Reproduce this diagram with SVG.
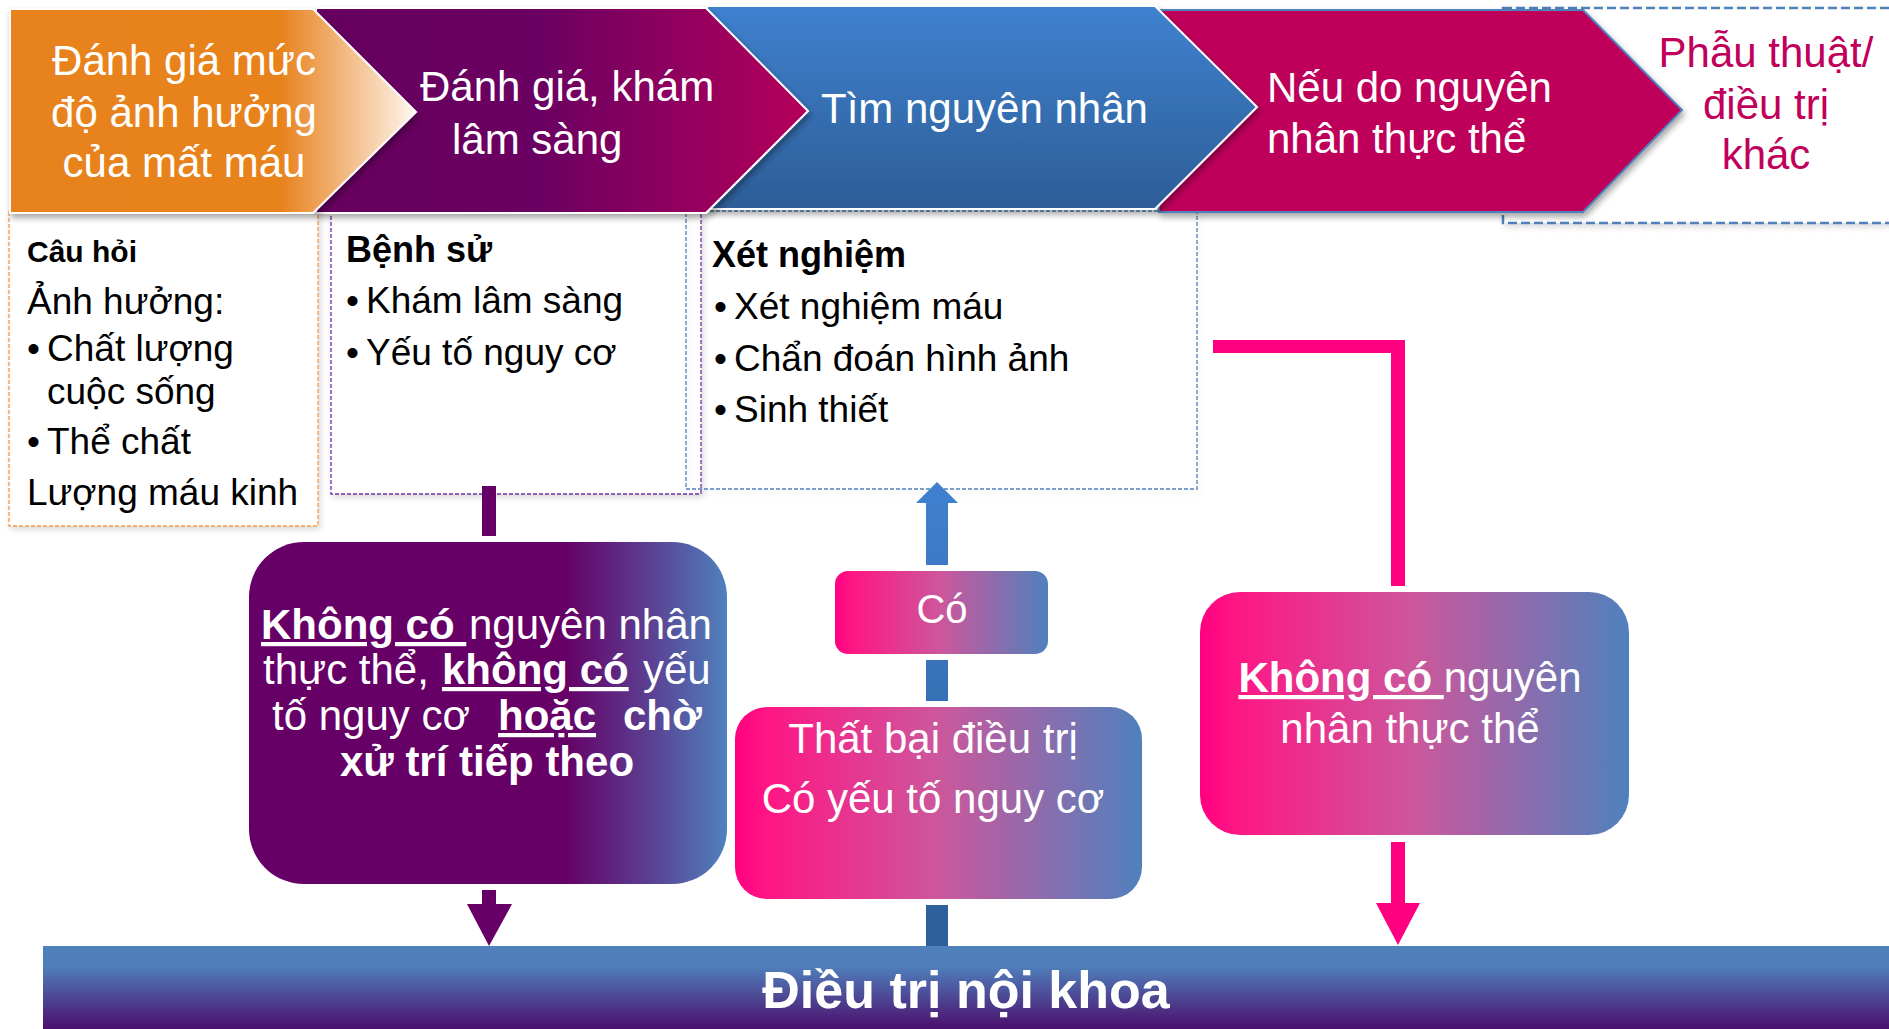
<svg xmlns="http://www.w3.org/2000/svg" width="1889" height="1029" viewBox="0 0 1889 1029">
<style>
text{font-family:"Liberation Sans",Arial,sans-serif}
.hd{font-size:42px;fill:#fff}
.bx{font-size:37px;fill:#000}
.bh{font-size:36px;font-weight:bold;fill:#000}
.wt{font-size:42px;fill:#fff}
.b{font-weight:bold}
.u{text-decoration:underline}
.dash{fill:#fff;stroke-width:1.3;stroke-dasharray:4 2}
</style>
<defs>
<linearGradient id="gOr" x1="10" y1="0" x2="416" y2="0" gradientUnits="userSpaceOnUse">
<stop offset="0" stop-color="#E8821E"/><stop offset="0.67" stop-color="#E8831F"/><stop offset="1" stop-color="#FEF6EF"/>
</linearGradient>
<linearGradient id="gPu" x1="316" y1="0" x2="808" y2="0" gradientUnits="userSpaceOnUse">
<stop offset="0" stop-color="#660060"/><stop offset="0.45" stop-color="#6A0062"/><stop offset="1" stop-color="#B4005A"/>
</linearGradient>
<linearGradient id="gBl" x1="0" y1="0" x2="0" y2="1">
<stop offset="0" stop-color="#3F81CF"/><stop offset="1" stop-color="#2D5D97"/>
</linearGradient>
<linearGradient id="gBox1" x1="0" y1="0" x2="1" y2="0">
<stop offset="0" stop-color="#660066"/><stop offset="0.66" stop-color="#660066"/><stop offset="0.85" stop-color="#5A4495"/><stop offset="1" stop-color="#4F81BD"/>
</linearGradient>
<linearGradient id="gPk" x1="0" y1="0" x2="1" y2="0">
<stop offset="0" stop-color="#FF0080"/><stop offset="0.08" stop-color="#FF1684"/><stop offset="0.5" stop-color="#CC579C"/><stop offset="1" stop-color="#4F81BD"/>
</linearGradient>
<linearGradient id="gArr" x1="0" y1="482" x2="0" y2="946" gradientUnits="userSpaceOnUse">
<stop offset="0" stop-color="#3F80CE"/><stop offset="1" stop-color="#2D5E98"/>
</linearGradient>
<linearGradient id="gBar" x1="0" y1="0" x2="0" y2="1">
<stop offset="0" stop-color="#4F81BD"/><stop offset="0.25" stop-color="#4F7EBA"/><stop offset="1" stop-color="#4B0E6C"/>
</linearGradient>
<filter id="sh" x="-5%" y="-10%" width="115%" height="130%">
<feDropShadow dx="2" dy="4" stdDeviation="3" flood-color="#000" flood-opacity="0.35"/>
</filter>
<filter id="sh2" x="-5%" y="-5%" width="115%" height="115%">
<feDropShadow dx="2" dy="3" stdDeviation="3" flood-color="#000" flood-opacity="0.15"/>
</filter>
</defs>
<rect width="1889" height="1029" fill="#fff"/>

<!-- detail boxes -->
<g id="box-questions"><rect class="dash" x="9" y="212" width="309" height="314" stroke="#F79646" filter="url(#sh2)"/>
<text class="bh" x="27" y="262" style="font-size:30px">Câu hỏi</text>
<text class="bx" x="27" y="314">Ảnh hưởng:</text>
<text class="bx" x="27" y="361">•</text><text class="bx"><tspan x="47" y="361">Chất lượng</tspan><tspan x="47" y="404">cuộc sống</tspan></text>
<text class="bx" x="27" y="454">•</text><text class="bx" x="47" y="454">Thể chất</text>
<text class="bx" x="27" y="505">Lượng máu kinh</text>
</g>
<g id="box-history"><rect class="dash" x="331" y="212" width="370" height="282" stroke="#7030A0" filter="url(#sh2)"/>
<text class="bh" x="346" y="262">Bệnh sử</text>
<text class="bx" x="346" y="313">•</text><text class="bx" x="366" y="313">Khám lâm sàng</text>
<text class="bx" x="346" y="365">•</text><text class="bx" x="366" y="365">Yếu tố nguy cơ</text>
</g>
<g id="box-tests"><rect class="dash" x="686" y="211" width="511" height="278" stroke="#4F81BD" style="fill:none" filter="url(#sh2)"/>
<text class="bh" x="712" y="267">Xét nghiệm</text>
<text class="bx" x="714" y="319">•</text><text class="bx" x="734" y="319">Xét nghiệm máu</text>
<text class="bx" x="714" y="371">•</text><text class="bx" x="734" y="371">Chẩn đoán hình ảnh</text>
<text class="bx" x="714" y="422">•</text><text class="bx" x="734" y="422">Sinh thiết</text>
</g>

<!-- top chevrons (right to left so tips overlap) -->
<g id="step5"><rect x="1503" y="8" width="400" height="215" fill="#fff" stroke="#4F81BD" stroke-width="2.5" stroke-dasharray="9 4" filter="url(#sh2)"/>
<text class="hd" text-anchor="middle" style="fill:#C0005A" x="1766" y="67">Phẫu thuật/</text>
<text class="hd" text-anchor="middle" style="fill:#C0005A" x="1766" y="119">điều trị</text>
<text class="hd" text-anchor="middle" style="fill:#C0005A" x="1766" y="169">khác</text>
</g>
<g id="step4"><polygon points="1159,10 1583,10 1682,110 1583,212 1159,212" fill="#BF005A" stroke="#4F81BD" stroke-width="2" filter="url(#sh)"/>
<text class="hd" x="1267" y="102">Nếu do nguyên</text>
<text class="hd" x="1267" y="153">nhân thực thể</text>
</g>
<g id="step3"><polygon points="707,6 1155,6 1257,107 1155,209 707,209" fill="url(#gBl)" stroke="#fff" stroke-width="2" filter="url(#sh)"/>
<text class="hd" x="821" y="123">Tìm nguyên nhân</text>
</g>
<g id="step2"><polygon points="316,8 706,8 808,111 706,213 316,213" fill="url(#gPu)" stroke="#fff" stroke-width="2" filter="url(#sh)"/>
<text class="hd" x="420" y="101">Đánh giá, khám</text>
<text class="hd" x="452" y="154">lâm sàng</text>
</g>
<g id="step1"><polygon points="10,9 313,9 416,112 313,213 10,213" fill="url(#gOr)" stroke="#fff" stroke-width="2" filter="url(#sh)"/>
<text class="hd" text-anchor="middle" x="184" y="75">Đánh giá mức</text>
<text class="hd" text-anchor="middle" x="184" y="127">độ ảnh hưởng</text>
<text class="hd" text-anchor="middle" x="184" y="177">của mất máu</text>
</g>

<!-- connectors -->
<g id="connectors">
<rect x="482" y="486" width="14" height="50" fill="#660066"/>
<rect x="482" y="890" width="14" height="15" fill="#660066"/>
<polygon points="467,904 512,904 489,946" fill="#660066"/>
<polygon points="916,503 958,503 937,482" fill="#3F80CE"/>
<rect x="926" y="502" width="22" height="63" fill="url(#gArr)"/>
<rect x="926" y="660" width="22" height="41" fill="url(#gArr)"/>
<rect x="926" y="905" width="22" height="41" fill="#2D5F9A"/>
<rect x="1213" y="340" width="192" height="13" fill="#FF0080"/>
<rect x="1391" y="340" width="14" height="246" fill="#FF0080"/>
<rect x="1391" y="842" width="14" height="62" fill="#FF0080"/>
<polygon points="1376,903 1420,903 1398,945" fill="#FF0080"/>
</g>

<!-- decision boxes -->
<g id="node-no-cause"><rect x="249" y="542" width="478" height="342" rx="55" fill="url(#gBox1)"/>
<text class="wt"><tspan x="261" y="639" class="b u">Không có&#160;</tspan><tspan x="469" y="639">nguyên nhân</tspan></text>
<text class="wt"><tspan x="263" y="684">thực thể,</tspan><tspan x="442" y="684" class="b u">không có</tspan><tspan x="643" y="684">yếu</tspan></text>
<text class="wt"><tspan x="272" y="730">tố nguy cơ</tspan><tspan x="498" y="730" class="b u">hoặc</tspan><tspan x="623" y="730" class="b">chờ</tspan></text>
<text class="wt b" text-anchor="middle" x="487" y="776">xử trí tiếp theo</text>
</g>
<g id="node-yes"><rect x="835" y="571" width="213" height="83" rx="13" fill="url(#gPk)"/>
<text class="wt" text-anchor="middle" x="942" y="623" style="font-size:40px">Có</text>
</g>
<g id="node-failure"><rect x="735" y="707" width="407" height="192" rx="32" fill="url(#gPk)"/>
<text class="wt" text-anchor="middle" x="933" y="753">Thất bại điều trị</text>
<text class="wt" text-anchor="middle" x="933" y="813">Có yếu tố nguy cơ</text>
</g>
<g id="node-no-organic"><rect x="1200" y="592" width="429" height="243" rx="40" fill="url(#gPk)"/>
<text class="wt" text-anchor="middle" x="1410" y="692"><tspan class="b u">Không có&#160;</tspan><tspan>nguyên</tspan></text>
<text class="wt" text-anchor="middle" x="1410" y="743">nhân thực thể</text>
</g>

<g id="node-medical"><rect x="43" y="946" width="1846" height="83" fill="url(#gBar)"/>
<text text-anchor="middle" x="966" y="1008" style="font-size:52px;font-weight:bold;fill:#fff">Điều trị nội khoa</text>
</g>
</svg>
